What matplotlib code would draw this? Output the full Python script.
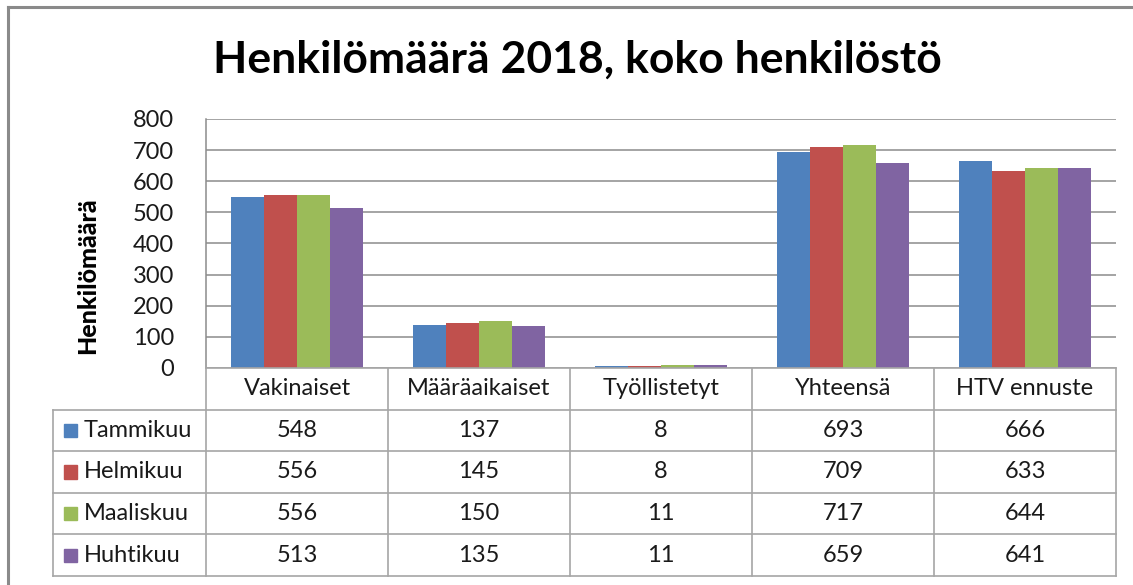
import matplotlib
matplotlib.use("Agg")
import matplotlib.pyplot as plt
from matplotlib.lines import Line2D
from matplotlib.patches import Rectangle
import numpy as np

# data
categories = ['Vakinaiset', 'Määräaikaiset', 'Työllistetyt', 'Yhteensä', 'HTV ennuste']
months = ['Tammikuu', 'Helmikuu', 'Maaliskuu', 'Huhtikuu']
tammikuu = [548, 137, 8, 693, 666]
helmikuu = [556, 145, 8, 709, 633]
maaliskuu = [556, 150, 11, 717, 644]
huhtikuu = [513, 135, 11, 659, 641]
series = [tammikuu, helmikuu, maaliskuu, huhtikuu]
colors = ['#4F81BD', '#C0504D', '#9BBB59', '#8064A2']
yticks = [0, 100, 200, 300, 400, 500, 600, 700, 800]

plt.rcParams['font.family'] = ['Lato', 'DejaVu Sans']
W, H = 1133, 585
fig = plt.figure(figsize=(W / 100, H / 100), dpi=100)

def px_rect(x0, y0, x1, y1):
    # pixel box (top-left origin) -> figure fraction
    return [x0 / W, 1 - y1 / H, (x1 - x0) / W, (y1 - y0) / H]

grid_col = '#8c8c8c'
tab_col = '#a6a6a6'
txt_col = '#1a1a1a'
fs = 17

# main plot
ax = fig.add_axes(px_rect(206, 119, 1116, 368))
n = len(categories)
bw = 0.182
x = np.arange(n) + 0.5
for i, (vals, c) in enumerate(zip(series, colors)):
    ax.bar(x + (i - 1.5) * bw, vals, width=bw, color=c, edgecolor='none', zorder=3)
ax.set_xlim(0, n)
ax.set_ylim(0, 800)
ax.set_yticks(yticks)
ax.set_yticklabels([str(v) for v in yticks], fontsize=fs, color=txt_col)
ax.tick_params(axis='y', length=0, pad=23)
ax.set_xticks([])
ax.yaxis.grid(True, color=grid_col, linewidth=1.1, zorder=0)
for s in ['top', 'right', 'bottom']:
    ax.spines[s].set_visible(False)
ax.spines['left'].set_color(grid_col)
ax.spines['left'].set_linewidth(1.1)
ax.set_ylabel('Henkilömäärä', fontsize=18, fontweight='black')
ax.yaxis.set_label_coords(-0.117, 0.37)

# data table under the plot
tab = fig.add_axes(px_rect(53, 368, 1116, 576))
left = -153 / 182
tab.set_xlim(left, n)
tab.set_ylim(5, 0)
tab.axis('off')
lk = dict(color=tab_col, linewidth=1.2, clip_on=False)
for j in range(n + 1):
    tab.plot([j, j], [0, 5], **lk)
tab.plot([left, left], [1, 5], **lk)
tab.plot([0, n], [0, 0], **lk)
for r in range(1, 6):
    tab.plot([left, n], [r, r], **lk)
for j, cat in enumerate(categories):
    tab.text(j + 0.5, 0.5, cat, ha='center', va='center', fontsize=fs, color=txt_col)
for r, (m, vals, c) in enumerate(zip(months, series, colors)):
    yy = r + 1.5
    tab.add_patch(Rectangle((left + 0.06, yy - 0.16), 0.072, 0.32, color=c, clip_on=False))
    tab.text(left + 0.17, yy, m, ha='left', va='center', fontsize=fs, color=txt_col)
    for j, v in enumerate(vals):
        tab.text(j + 0.5, yy, str(v), ha='center', va='center', fontsize=fs, color=txt_col)

# title
fig.text(577 / W, 1 - 60 / H, 'Henkilömäärä 2018, koko henkilöstö', ha='center', va='center',
         fontsize=32, fontweight='bold')

# chart frame
fig.add_artist(Line2D([8 / W, 8 / W], [0, 1 - 7 / H], color='#8a8a8a', linewidth=2.2))
fig.add_artist(Line2D([8 / W, 1], [1 - 7 / H, 1 - 7 / H], color='#8a8a8a', linewidth=2.2))

fig.savefig('out.png', dpi=100)
